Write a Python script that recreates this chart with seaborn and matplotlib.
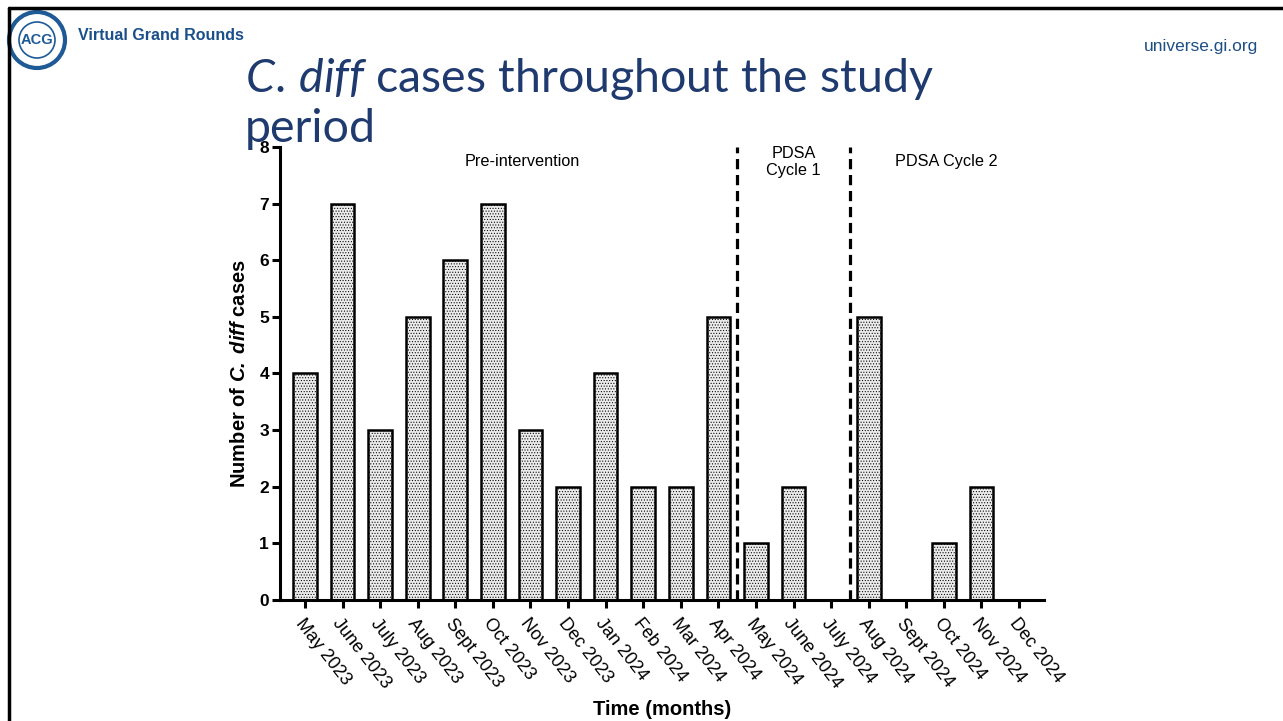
import matplotlib
matplotlib.use("Agg")
import matplotlib.pyplot as plt
import seaborn as sns
import pandas as pd
from matplotlib.patches import Ellipse
from matplotlib.lines import Line2D

months = ["May 2023", "June 2023", "July 2023", "Aug 2023", "Sept 2023", "Oct 2023",
          "Nov 2023", "Dec 2023", "Jan 2024", "Feb 2024", "Mar 2024", "Apr 2024",
          "May 2024", "June 2024", "July 2024", "Aug 2024", "Sept 2024", "Oct 2024",
          "Nov 2024", "Dec 2024"]
cases = [4, 7, 3, 5, 6, 7, 3, 2, 4, 2, 2, 5, 1, 2, 0, 5, 0, 1, 2, 0]
phase_breaks = [11.5, 14.5]
phase_labels = ["Pre-intervention", "PDSA\nCycle 1", "PDSA Cycle 2"]
phase_label_x = [5.77, 13.0, 17.06]
y_ticks = [0, 1, 2, 3, 4, 5, 6, 7, 8]

sns.set_theme(style="white")
plt.rcParams['font.family'] = ['Liberation Sans', 'DejaVu Sans']
plt.rcParams['mathtext.fontset'] = 'custom'
plt.rcParams['mathtext.bfit'] = 'Liberation Sans:bold:italic'
plt.rcParams['mathtext.it'] = 'Lato:italic'
plt.rcParams['mathtext.rm'] = 'Lato'
plt.rcParams['hatch.color'] = '#9a9a9a'
plt.rcParams['hatch.linewidth'] = 0.45
for k in ['text.color', 'axes.labelcolor', 'xtick.color', 'ytick.color']:
    plt.rcParams[k] = 'black'

df = pd.DataFrame({"month": months, "cases": cases})

W, H = 1283, 721
fig = plt.figure(figsize=(W/100, H/100), dpi=100)
ax = fig.add_axes([280/W, 1-600/H, (1044-280)/W, (600-147)/H])

sns.barplot(data=df, x="month", y="cases", ax=ax, color="#ebebeb", saturation=1,
            edgecolor="black", linewidth=1.8, width=0.63)
for p in ax.patches:
    p.set_hatch('......')

ax.set_xlim(-0.665, len(months) - 1 + 0.665)
ax.set_ylim(0, 8)
ax.set_yticks(y_ticks)
ax.set_yticklabels([str(t) for t in y_ticks], fontsize=12.5, fontweight='bold')
ax.set_xticks(range(len(months)))
ax.set_xticklabels(months, rotation=-52, ha='left', va='top', rotation_mode='anchor', fontsize=13)

for s in ['top', 'right']:
    ax.spines[s].set_visible(False)
for s in ['left', 'bottom']:
    ax.spines[s].set_linewidth(2.2)
    ax.spines[s].set_color('black')
ax.tick_params(axis='both', which='major', direction='out', length=6, width=2.2, color='black',
               left=True, bottom=True, pad=2)
ax.tick_params(axis='x', pad=5)

for xb in phase_breaks:
    ax.plot([xb, xb], [0, 8], color='black', lw=2.3, ls=(0, (3.2, 1.8)), clip_on=False)

for lab, xl in zip(phase_labels, phase_label_x):
    ax.text(xl, 7.74, lab, ha='center', va='center', fontsize=11.7, linespacing=1.15)

ax.set_xlabel("Time (months)", fontsize=14.5, fontweight='bold', labelpad=6)
ax.set_ylabel(r"Number of $\mathbfit{C.\ diff}$ cases", fontsize=14.5, fontweight='bold', labelpad=7)

# slide frame
fig.add_artist(Line2D([9/W, 1], [1-8/H, 1-8/H], color='black', lw=2.5, transform=fig.transFigure))
fig.add_artist(Line2D([9/W, 9/W], [0, 1-8/H], color='black', lw=2.5, transform=fig.transFigure))

# logo
cx, cy = 37/W, 1-40/H
fig.add_artist(Ellipse((cx, cy), 56/W, 56/H, transform=fig.transFigure, facecolor='white',
                       edgecolor='#1d5a96', lw=3))
fig.add_artist(Ellipse((cx, cy), 36/W, 36/H, transform=fig.transFigure, facecolor='white',
                       edgecolor='#1d5a96', lw=1.2))
fig.text(cx, cy, "ACG", ha='center', va='center', fontsize=10.5, fontweight='bold', color='#1d5a96')

fig.text(78/W, 1-36/H, "Virtual Grand Rounds", ha='left', va='center', fontsize=11.5,
         fontweight='bold', color='#1a4f8a')
fig.text(1258/W, 1-46/H, "universe.gi.org", ha='right', va='center', fontsize=12.5, color='#1d4f85')

title_color = '#1f3a6e'
fig.text(245/W, 1-92/H, r"$\mathit{C.}\,\mathit{diff}$ cases throughout the study", ha='left', va='baseline',
         fontsize=33.5, color=title_color, family='Lato')
fig.text(245/W, 1-142/H, "period", ha='left', va='baseline', fontsize=33.5, color=title_color, family='Lato')

fig.savefig("out.png", dpi=100)
